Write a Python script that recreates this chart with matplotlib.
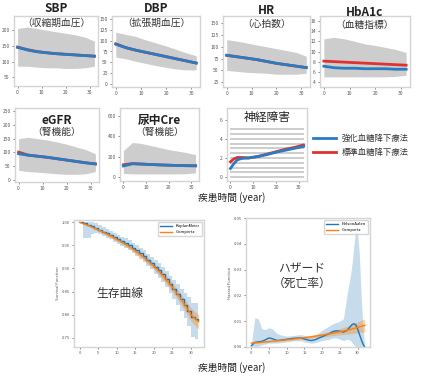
import matplotlib
matplotlib.use('Agg')
import matplotlib.pyplot as plt
import numpy as np

plt.rcParams['font.family'] = ['Noto Sans CJK JP', 'DejaVu Sans']

W, H = 431, 385
BLUE = '#2a7bbf'
RED = '#e03131'
GRAY = '#cdcdcd'

# ---- top panels: time grid, cloud envelopes, fitted lines ----
t = [0, 4, 8, 12, 16, 20, 24, 28, 32]

sbp_hi = [205, 210, 205, 200, 195, 190, 185, 178, 165]
sbp_lo = [85, 85, 82, 80, 80, 78, 78, 80, 85]
sbp_blue = [145, 137, 131, 128, 125, 123, 121, 119, 117]
sbp_red = [146, 138, 132, 128, 125, 123, 121, 119, 117]

dbp_hi = [120, 115, 110, 102, 95, 88, 80, 72, 65]
dbp_lo = [62, 58, 52, 47, 42, 38, 34, 32, 32]
dbp_blue = [92, 84, 78, 73, 68, 63, 58, 53, 48]
dbp_red = [93, 84, 78, 73, 68, 63, 58, 53, 48]

hr_hi = [115, 112, 108, 104, 100, 96, 92, 88, 80]
hr_lo = [50, 48, 46, 45, 44, 42, 42, 42, 44]
hr_blue = [82, 79, 76, 73, 69, 65, 62, 59, 56]
hr_red = [82, 79, 76, 73, 69, 65, 62, 59, 56]

a1c_hi = [12.5, 12.8, 12.5, 12.0, 11.5, 11.2, 10.8, 10.4, 9.8]
a1c_lo = [5.0, 5.0, 5.0, 5.0, 5.0, 5.0, 5.0, 5.1, 5.3]
a1c_blue = [7.1, 6.8, 6.7, 6.7, 6.6, 6.6, 6.6, 6.5, 6.5]
a1c_red = [8.1, 8.0, 7.9, 7.8, 7.7, 7.6, 7.5, 7.4, 7.3]

egfr_hi = [150, 155, 150, 145, 138, 130, 120, 110, 95]
egfr_lo = [35, 30, 28, 25, 22, 20, 20, 22, 30]
egfr_blue = [95, 90, 86, 82, 77, 72, 67, 62, 58]
egfr_red = [101, 90, 86, 82, 77, 72, 67, 62, 58]

cre_hi = [260, 340, 330, 310, 290, 270, 255, 240, 220]
cre_lo = [35, 30, 30, 30, 30, 30, 30, 32, 40]
cre_blue = [108, 130, 127, 123, 119, 116, 113, 111, 110]
cre_red = [120, 132, 127, 123, 119, 116, 113, 111, 110]

neuro_levels = [0, 0.5, 1, 1.5, 2, 2.5, 3, 3.5, 4, 4.5, 5]
neuro_t = [0, 1.5, 3, 5, 8, 12, 16, 20, 24, 28, 32]
neuro_blue = [0.9, 1.4, 1.8, 1.95, 2.0, 2.15, 2.35, 2.6, 2.8, 3.0, 3.2]
neuro_red = [1.6, 1.9, 2.05, 2.05, 2.0, 2.15, 2.4, 2.65, 2.9, 3.1, 3.35]

# ---- survival (Kaplan-Meier / Gompertz) ----
km_t = [0, 1, 2, 3, 4, 5, 6, 7, 8, 9, 10, 11, 12, 13, 14, 15, 16, 17, 18, 19, 20,
        21, 22, 23, 24, 25, 26, 27, 28, 29, 30, 31, 32]
km_s = [1.0, 0.999, 0.995, 0.991, 0.988, 0.984, 0.980, 0.976, 0.972, 0.968, 0.964,
        0.959, 0.955, 0.950, 0.944, 0.939, 0.933, 0.926, 0.919, 0.912, 0.904,
        0.896, 0.887, 0.877, 0.866, 0.856, 0.845, 0.833, 0.820, 0.808, 0.796, 0.790, 0.788]
km_lo = [1.0, 0.966, 0.966, 0.975, 0.977, 0.974, 0.971, 0.967, 0.963, 0.958, 0.954,
         0.949, 0.944, 0.939, 0.933, 0.927, 0.921, 0.913, 0.906, 0.898, 0.889,
         0.880, 0.870, 0.859, 0.847, 0.835, 0.822, 0.808, 0.793, 0.776, 0.752, 0.748, 0.748]
km_hi = [1.0, 1.0, 1.0, 1.0, 0.998, 0.994, 0.990, 0.986, 0.981, 0.977, 0.973,
         0.969, 0.965, 0.961, 0.955, 0.950, 0.945, 0.939, 0.932, 0.925, 0.918,
         0.911, 0.903, 0.894, 0.884, 0.875, 0.866, 0.856, 0.846, 0.838, 0.826, 0.826, 0.826]
gp_s = [1.0, 0.997, 0.994, 0.991, 0.987, 0.984, 0.980, 0.976, 0.972, 0.968, 0.963,
        0.959, 0.954, 0.949, 0.944, 0.938, 0.932, 0.926, 0.919, 0.912, 0.905,
        0.897, 0.888, 0.879, 0.869, 0.859, 0.848, 0.837, 0.825, 0.813, 0.800, 0.792, 0.785]
gp_w = [0.0, 0.001, 0.002, 0.002, 0.003, 0.003, 0.003, 0.004, 0.004, 0.004, 0.004,
        0.005, 0.005, 0.005, 0.005, 0.006, 0.006, 0.006, 0.007, 0.007, 0.007,
        0.008, 0.008, 0.009, 0.009, 0.010, 0.010, 0.011, 0.012, 0.013, 0.014, 0.015, 0.016]

# ---- hazard (Nelson-Aalen / Gompertz) ----
hz_t = [0, 1, 2, 3, 4, 5, 6, 7, 8, 10, 12, 14, 15, 16, 17, 18, 20, 22, 23, 24, 25,
        26, 27, 28, 28.5, 29, 29.5, 30, 30.5, 31, 31.5, 32]
hz_na = [0.0005, 0.0018, 0.0020, 0.0022, 0.0028, 0.0035, 0.0032, 0.0026, 0.0026, 0.0030,
         0.0034, 0.0035, 0.0031, 0.0027, 0.0025, 0.0028, 0.0040, 0.0052, 0.0060, 0.0063, 0.0061,
         0.0058, 0.0064, 0.0080, 0.0088, 0.0090, 0.0086, 0.0070, 0.0050, 0.0030, 0.0012, 0.0]
hz_hi = [0.001, 0.0115, 0.0108, 0.0070, 0.0068, 0.0075, 0.0070, 0.0055, 0.0048, 0.0042,
         0.0045, 0.0048, 0.0045, 0.0040, 0.0040, 0.0045, 0.0065, 0.0082, 0.0090, 0.0095, 0.0100,
         0.0110, 0.0200, 0.0280, 0.0330, 0.0400, 0.0460, 0.0440, 0.0360, 0.0200, 0.0080, 0.0010]
hz_lo = [0.0, 0.0, 0.0003, 0.0008, 0.0012, 0.0015, 0.0015, 0.0015, 0.0016, 0.0020,
         0.0024, 0.0024, 0.0020, 0.0017, 0.0015, 0.0017, 0.0025, 0.0030, 0.0035, 0.0035, 0.0030,
         0.0025, 0.0030, 0.0025, 0.0015, 0.0008, 0.0, 0.0, 0.0, 0.0, 0.0, 0.0]
gz_t = [0, 4, 8, 12, 16, 20, 24, 28, 32]
gz_h = [0.0015, 0.0020, 0.0025, 0.0031, 0.0038, 0.0046, 0.0056, 0.0068, 0.0084]
gz_w = [0.0003, 0.0003, 0.0003, 0.0004, 0.0005, 0.0007, 0.0010, 0.0017, 0.0025]

fig = plt.figure(figsize=(W / 100, H / 100), dpi=100)


def add_ax(l, t_, r, b):
    return fig.add_axes([l / W, 1 - b / H, (r - l) / W, (b - t_) / H])


def style(ax, fs=3.5):
    for s in ax.spines.values():
        s.set_color('#d4d4d4')
        s.set_linewidth(1.0)
    ax.tick_params(labelsize=fs, colors='#555555', length=1.5, width=0.5, pad=1.5)


def top_panel(box, hi, lo, blue, red, ylim, yticks, title, sub, ty, sy):
    ax = add_ax(*box)
    ax.fill_between(t, lo, hi, color=GRAY, lw=0)
    ax.plot(t, red, color=RED, lw=2)
    ax.plot(t, blue, color=BLUE, lw=2)
    ax.set_xlim(-1.5, 33.5)
    ax.set_ylim(*ylim)
    ax.set_yticks(yticks)
    ax.set_xticks([0, 10, 20, 30])
    style(ax)
    cx = (box[0] + box[2]) / 2 / W
    fig.text(cx, 1 - ty / H, title, ha='center', va='center', fontsize=8.5,
             fontweight='bold', color='#222222')
    fig.text(cx, 1 - sy / H, sub, ha='center', va='center', fontsize=7, color='#333333')
    return ax


top_panel((14, 16, 98, 86), sbp_hi, sbp_lo, sbp_blue, sbp_red, (22, 245),
          [50, 100, 150, 200], 'SBP', '（収縮期血圧）', 9, 23)
top_panel((112, 16, 200, 87), dbp_hi, dbp_lo, dbp_blue, dbp_red, (-8, 158),
          [0, 25, 50, 75, 100, 125, 150], 'DBP', '（拡張期血圧）', 9, 23)
top_panel((223, 16, 310, 87), hr_hi, hr_lo, hr_blue, hr_red, (15, 165),
          [25, 50, 75, 100, 125, 150], 'HR', '（心拍数）', 11, 24)
top_panel((320, 16, 410, 87), a1c_hi, a1c_lo, a1c_blue, a1c_red, (3, 17),
          [4, 6, 8, 10, 12, 14, 16], 'HbA1c', '（血糖指標）', 12, 25)
top_panel((15, 108, 99, 182), egfr_hi, egfr_lo, egfr_blue, egfr_red, (-8, 262),
          [0, 50, 100, 150, 200, 250], 'eGFR', '（腎機能）', 120, 132)
top_panel((120, 108, 199, 181), cre_hi, cre_lo, cre_blue, cre_red, (-40, 680),
          [0, 200, 400, 600], '尿中Cre', '（腎機能）', 120, 132)

# neuropathy panel
ax = add_ax(227, 108, 307, 181)
for lv in neuro_levels:
    ax.hlines(lv, 0, 32, color=GRAY, lw=1.4)
ax.plot(neuro_t, neuro_red, color=RED, lw=2)
ax.plot(neuro_t, neuro_blue, color=BLUE, lw=2)
ax.set_xlim(-1.5, 33.5)
ax.set_ylim(-0.4, 7.2)
ax.set_yticks([0, 2, 4, 6])
ax.set_xticks([0, 10, 20, 30])
style(ax)
fig.text((227 + 307) / 2 / W, 1 - 118 / H, '神経障害', ha='center', va='center',
         fontsize=8.5, color='#222222')

# legend for top panels
for yy, col, lab in [(138, BLUE, '強化血糖降下療法'), (152, RED, '標準血糖降下療法')]:
    fig.add_artist(plt.Line2D([313 / W, 336 / W], [1 - yy / H, 1 - yy / H], color=col, lw=2))
    fig.text(342 / W, 1 - yy / H, lab, ha='left', va='center', fontsize=6, color='#333333')

fig.text(232 / W, 1 - 198 / H, '疾患時間 (year)', ha='center', va='center', fontsize=7,
         color='#222222')

# survival panel
ax = add_ax(74, 220, 204, 347)
ax.fill_between(km_t, km_lo, km_hi, step='post', color='#1f77b4', alpha=0.25, lw=0)
ax.fill_between(km_t, np.array(gp_s) - np.array(gp_w), np.array(gp_s) + np.array(gp_w),
                color='#ff7f0e', alpha=0.35, lw=0)
ax.plot(km_t, km_s, drawstyle='steps-post', color='#1f77b4', lw=1, label='KaplanMeier')
ax.plot(km_t, gp_s, color='#ff7f0e', lw=1, label='Gompertz')
ax.set_xlim(-1.5, 33.5)
ax.set_ylim(0.73, 1.005)
ax.set_yticks([0.75, 0.80, 0.85, 0.90, 0.95, 1.00])
ax.set_xticks([0, 5, 10, 15, 20, 25, 30])
ax.set_ylabel('Survival Function', fontsize=3, color='#555555', labelpad=1)
style(ax, 3)
ax.legend(loc='upper right', fontsize=3, frameon=True, handlelength=3, borderpad=0.5)
ax.text(0.35, 0.42, '生存曲線', transform=ax.transAxes, ha='center', va='center',
        fontsize=8.5, color='#333333')

# hazard panel
ax = add_ax(246, 218, 370, 347)
ax.fill_between(hz_t, hz_lo, hz_hi, color='#1f77b4', alpha=0.25, lw=0)
ax.fill_between(gz_t, np.array(gz_h) - np.array(gz_w), np.array(gz_h) + np.array(gz_w),
                color='#ff7f0e', alpha=0.35, lw=0)
ax.plot(hz_t, hz_na, color='#1f77b4', lw=1, label='NelsonAalen')
ax.plot(gz_t, gz_h, color='#ff7f0e', lw=1, label='Gompertz')
ax.set_xlim(-1.5, 33.5)
ax.set_ylim(0, 0.05)
ax.set_yticks([0.00, 0.01, 0.02, 0.03, 0.04, 0.05])
ax.set_xticks([0, 5, 10, 15, 20, 25, 30])
ax.set_ylabel('Hazard Function', fontsize=3, color='#555555', labelpad=1)
style(ax, 3)
ax.legend(loc='upper right', fontsize=3, frameon=True, handlelength=3, borderpad=0.5)
ax.text(0.45, 0.55, 'ハザード\n（死亡率）', transform=ax.transAxes, ha='center', va='center',
        fontsize=8.5, color='#333333', linespacing=1.2)

fig.text(232 / W, 1 - 368 / H, '疾患時間 (year)', ha='center', va='center', fontsize=7,
         color='#222222')

fig.savefig('out.png', dpi=100)
